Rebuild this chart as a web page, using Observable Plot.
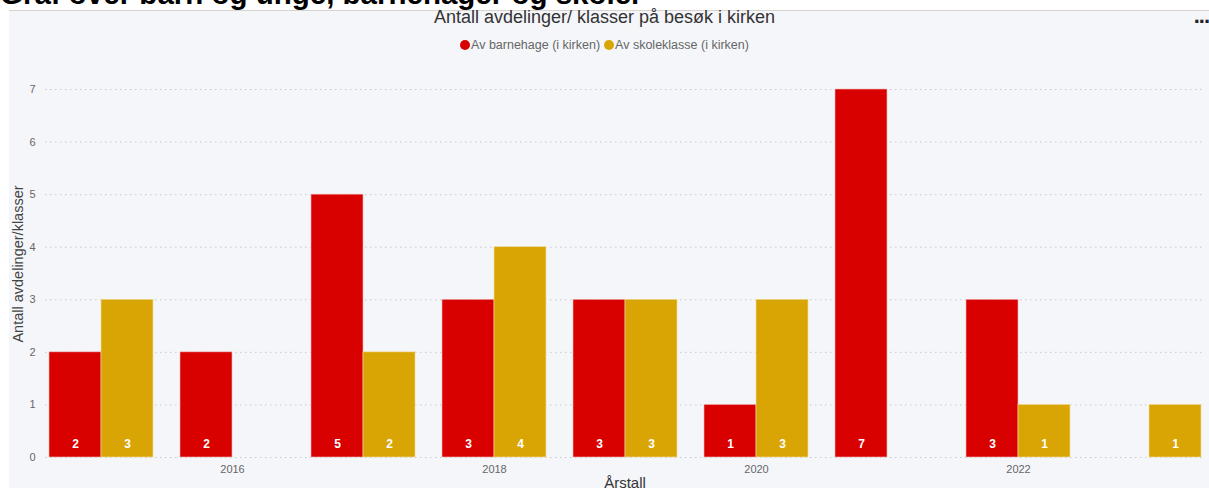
<!DOCTYPE html>
<html>
<head>
<meta charset="utf-8">
<script src="https://cdn.jsdelivr.net/npm/d3@7"></script>
<script src="https://cdn.jsdelivr.net/npm/@observablehq/plot@0.6"></script>
<style>
  html, body { margin: 0; padding: 0; background: #ffffff; }
  body { position: relative; width: 1209px; height: 488px; overflow: hidden; font-family: "Liberation Sans", Arial, sans-serif; }
  #heading { position: absolute; left: 0; top: -23px; font-size: 29.5px; font-weight: bold; color: #000; white-space: nowrap; }
  #panel { position: absolute; left: 9px; top: 10px; width: 1200px; height: 478px; background: #f5f6fa; border-top: 1px solid #d8d4cc; }
  #title { position: absolute; left: 0; width: 1209px; top: 7px; text-align: center; font-size: 18px; color: #333; }
  #legend { position: absolute; left: 0; width: 1209px; top: 38px; text-align: center; font-size: 12.5px; color: #666; }
  #legend span.item { margin: 0 2px; }
  #legend span.dot { display: inline-block; width: 10px; height: 10px; border-radius: 50%; vertical-align: -1px; margin-right: 1px; }
  #more { position: absolute; right: 0px; top: 3px; font-size: 22px; font-weight: bold; color: #222; letter-spacing: -1px; }
  #chart { position: absolute; left: 0; top: 62px; }
  #ylabel { position: absolute; left: 18px; top: 264px; transform: translate(-50%, -50%) rotate(-90deg); font-size: 14.5px; color: #444; white-space: nowrap; }
  #xlabel { position: absolute; left: 625px; top: 474px; transform: translateX(-50%); font-size: 15px; color: #333; white-space: nowrap; }
</style>
</head>
<body>
<div id="heading">Graf over barn og unge, barnehager og skoler</div>
<div id="panel"></div>
<div id="title">Antall avdelinger/ klasser på besøk i kirken</div>
<div id="legend"></div>
<div id="more">...</div>
<div id="chart"></div>
<div id="ylabel"></div>
<div id="xlabel"></div>
<script>
const years = [2015, 2016, 2017, 2018, 2019, 2020, 2021, 2022, 2023];
const barnehage = [2, 2, 5, 3, 3, 1, 7, 3, 0];
const skoleklasse = [3, 0, 2, 4, 3, 3, 0, 1, 1];
const seriesNames = ["Av barnehage (i kirken)", "Av skoleklasse (i kirken)"];
const seriesColors = ["#d90000", "#d9a505"];
const yTicks = [0, 1, 2, 3, 4, 5, 6, 7];
const xTicks = [2016, 2018, 2020, 2022];
const xTitle = "Årstall";
const yTitle = "Antall avdelinger/klasser";

document.getElementById("xlabel").textContent = xTitle;
document.getElementById("ylabel").textContent = yTitle;

// legend
const legend = document.getElementById("legend");
seriesNames.forEach((name, i) => {
  const item = document.createElement("span");
  item.className = "item";
  const dot = document.createElement("span");
  dot.className = "dot";
  dot.style.background = seriesColors[i];
  item.appendChild(dot);
  item.appendChild(document.createTextNode(name));
  legend.appendChild(item);
});

const rows = [];
years.forEach((yr, i) => {
  rows.push({year: String(yr), series: seriesNames[0], value: barnehage[i]});
  rows.push({year: String(yr), series: seriesNames[1], value: skoleklasse[i]});
});
const redRows = rows.filter(d => d.series === seriesNames[0]);
const yelRows = rows.filter(d => d.series === seriesNames[1]);

const half = 52;
const chart = Plot.plot({
  width: 1209,
  height: 435,
  marginLeft: 45,
  marginRight: 4,
  marginTop: 27,
  marginBottom: 40,
  style: {background: "transparent", fontSize: "11px", color: "#666", fontFamily: "'Liberation Sans', Arial, sans-serif"},
  x: {
    type: "band",
    domain: years.map(String),
    paddingInner: 0.206,
    paddingOuter: 0,
    ticks: xTicks.map(String),
    tickSize: 0,
    tickPadding: 8,
    label: null
  },
  y: {
    domain: [0, 7],
    ticks: yTicks,
    tickFormat: "d",
    tickSize: 0,
    tickPadding: 10,
    label: null
  },
  color: {domain: seriesNames, range: seriesColors},
  marks: [
    Plot.ruleY(yTicks, {stroke: "#c9c9c9", strokeDasharray: "1.5,3.5"}),
    Plot.barY(redRows, {x: "year", y: "value", fill: "series", insetRight: half, stroke: "#f2b8b8", strokeWidth: 0.6}),
    Plot.barY(yelRows, {x: "year", y: "value", fill: "series", insetLeft: half, stroke: "#f2dca0", strokeWidth: 0.6}),
    Plot.text(redRows.filter(d => d.value > 0), {x: "year", y: 0, text: d => String(d.value), dx: -half / 2, dy: -13, fill: "white", fontWeight: "bold", fontSize: 12}),
    Plot.text(yelRows.filter(d => d.value > 0), {x: "year", y: 0, text: d => String(d.value), dx: half / 2, dy: -13, fill: "white", fontWeight: "bold", fontSize: 12})
  ]
});
document.getElementById("chart").appendChild(chart);
</script>
</body>
</html>
